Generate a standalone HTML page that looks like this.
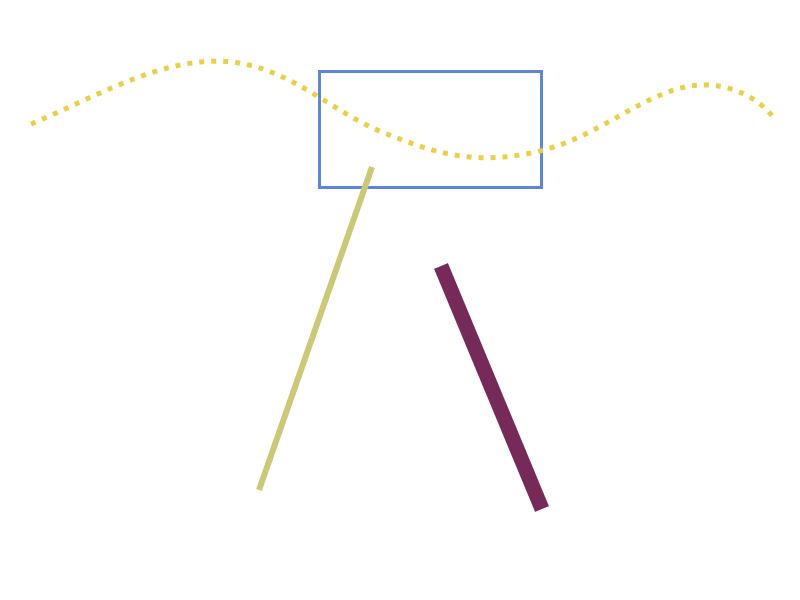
<!DOCTYPE html>
<html><head><style>html,body{margin:0;padding:0;background:#fff;}svg{display:block}</style></head>
<body>
<svg width="800" height="600" viewBox="0 0 800 600" xmlns="http://www.w3.org/2000/svg">
<rect x="319.5" y="71.5" width="222" height="116" fill="none" stroke="#5b87d6" stroke-width="3"/>
<path d="M31,124 C100,95 165,55 232,62 C292,69 332,112 382,132 C432,152 472,167 540,151 C600,136 640,95 690,86 C730,80 760,100 773,117" fill="none" stroke="#e8d04a" stroke-width="5" stroke-dasharray="5,7"/>
<line x1="372" y1="167" x2="259" y2="490" stroke="#cbc878" stroke-width="6"/>
<line x1="441" y1="266" x2="542" y2="509" stroke="#762a5a" stroke-width="15"/>
</svg>
</body></html>
